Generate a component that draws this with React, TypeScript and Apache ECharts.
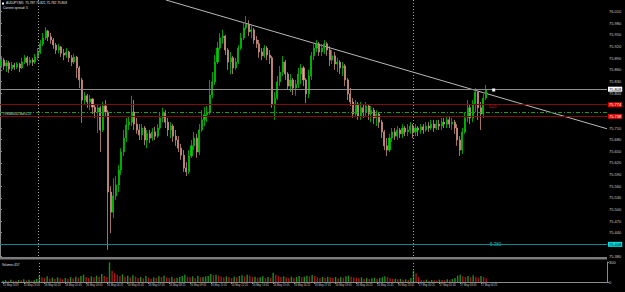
import React, { useEffect, useRef } from "react";
import * as echarts from "echarts";

// ---- data (AUDJPY; 10-minute steps) ----
const firstOpen = 75.87;
const closes = [
  75.885, 75.870, 75.878, 75.862, 75.872, 75.867, 75.875, 75.865, 75.880, 75.891,
  75.878, 75.885, 75.880, 75.893, 75.906, 75.927, 75.942, 75.960, 75.945, 75.937,
  75.924, 75.911, 75.919, 75.903, 75.898, 75.906, 75.891, 75.880, 75.893, 75.865,
  75.834, 75.782, 75.793, 75.777, 75.785, 75.764, 75.751, 75.762, 75.705, 75.767,
  75.751, 75.545, 75.493, 75.535, 75.563, 75.602, 75.648, 75.684, 75.718, 75.725,
  75.751, 75.720, 75.705, 75.692, 75.710, 75.679, 75.695, 75.684, 75.700, 75.689,
  75.710, 75.736, 75.751, 75.725, 75.705, 75.715, 75.689, 75.679, 75.658, 75.640,
  75.607, 75.597, 75.638, 75.664, 75.684, 75.648, 75.705, 75.731, 75.744, 75.751,
  75.795, 75.829, 75.880, 75.916, 75.942, 75.947, 75.911, 75.880, 75.891, 75.865,
  75.880, 75.916, 75.942, 75.968, 75.978, 75.958, 75.963, 75.937, 75.927, 75.906,
  75.896, 75.916, 75.898, 75.891, 75.772, 75.787, 75.829, 75.854, 75.880, 75.849,
  75.818, 75.834, 75.813, 75.823, 75.849, 75.865, 75.834, 75.798, 75.844, 75.896,
  75.916, 75.927, 75.906, 75.916, 75.927, 75.911, 75.885, 75.896, 75.875, 75.880,
  75.865, 75.870, 75.834, 75.798, 75.777, 75.746, 75.772, 75.741, 75.762, 75.751,
  75.767, 75.746, 75.756, 75.736, 75.746, 75.725, 75.700, 75.664, 75.653, 75.684,
  75.700, 75.689, 75.705, 75.695, 75.710, 75.700, 75.705, 75.715, 75.700, 75.710,
  75.705, 75.713, 75.705, 75.715, 75.710, 75.720, 75.710, 75.720, 75.715, 75.725,
  75.720, 75.731, 75.720, 75.725, 75.710, 75.679, 75.653, 75.700, 75.736, 75.762,
  75.736, 75.772, 75.803, 75.762, 75.746, 75.787, 75.808,
];
const highs = [
  75.896, 75.891, 75.885, 75.883, 75.880, 75.878, 75.880, 75.878, 75.891, 75.898,
  75.896, 75.893, 75.891, 75.901, 75.916, 75.937, 75.955, 75.970, 75.963, 75.955,
  75.942, 75.929, 75.927, 75.921, 75.914, 75.916, 75.909, 75.898, 75.901, 75.896,
  75.870, 75.839, 75.803, 75.798, 75.795, 75.787, 75.772, 75.772, 75.767, 75.777,
  75.782, 75.756, 75.560, 75.581, 75.586, 75.615, 75.658, 75.705, 75.736, 75.741,
  75.793, 75.782, 75.736, 75.720, 75.720, 75.715, 75.705, 75.705, 75.710, 75.713,
  75.720, 75.751, 75.762, 75.756, 75.736, 75.725, 75.720, 75.705, 75.689, 75.669,
  75.653, 75.622, 75.653, 75.679, 75.700, 75.695, 75.720, 75.756, 75.764, 75.767,
  75.834, 75.854, 75.898, 75.932, 75.955, 75.963, 75.950, 75.916, 75.906, 75.896,
  75.891, 75.924, 75.955, 75.983, 75.999, 75.988, 75.978, 75.968, 75.947, 75.937,
  75.916, 75.924, 75.921, 75.911, 75.896, 75.803, 75.844, 75.870, 75.896, 75.885,
  75.854, 75.849, 75.839, 75.834, 75.865, 75.875, 75.870, 75.839, 75.860, 75.906,
  75.929, 75.937, 75.932, 75.927, 75.937, 75.932, 75.921, 75.911, 75.906, 75.891,
  75.885, 75.880, 75.875, 75.839, 75.813, 75.787, 75.782, 75.777, 75.777, 75.772,
  75.777, 75.772, 75.767, 75.762, 75.756, 75.751, 75.731, 75.705, 75.684, 75.695,
  75.710, 75.710, 75.715, 75.710, 75.720, 75.715, 75.720, 75.725, 75.720, 75.720,
  75.715, 75.720, 75.720, 75.725, 75.725, 75.731, 75.731, 75.731, 75.731, 75.736,
  75.736, 75.741, 75.741, 75.736, 75.731, 75.720, 75.689, 75.710, 75.751, 75.782,
  75.772, 75.782, 75.813, 75.803, 75.777, 75.798, 75.821,
];
const lows = [
  75.865, 75.860, 75.854, 75.852, 75.857, 75.860, 75.862, 75.854, 75.862, 75.875,
  75.870, 75.872, 75.870, 75.875, 75.885, 75.901, 75.921, 75.937, 75.934, 75.927,
  75.914, 75.901, 75.903, 75.893, 75.885, 75.891, 75.880, 75.870, 75.875, 75.839,
  75.813, 75.723, 75.772, 75.762, 75.756, 75.746, 75.736, 75.697, 75.648, 75.700,
  75.741, 75.396, 75.439, 75.478, 75.524, 75.545, 75.589, 75.638, 75.674, 75.705,
  75.715, 75.705, 75.695, 75.679, 75.679, 75.666, 75.658, 75.671, 75.677, 75.679,
  75.684, 75.705, 75.725, 75.710, 75.689, 75.684, 75.674, 75.664, 75.648, 75.628,
  75.597, 75.586, 75.591, 75.633, 75.653, 75.633, 75.640, 75.700, 75.715, 75.725,
  75.744, 75.787, 75.821, 75.875, 75.911, 75.927, 75.898, 75.860, 75.849, 75.849,
  75.860, 75.875, 75.911, 75.937, 75.963, 75.947, 75.942, 75.927, 75.916, 75.891,
  75.885, 75.891, 75.885, 75.875, 75.762, 75.731, 75.782, 75.818, 75.844, 75.834,
  75.808, 75.803, 75.795, 75.793, 75.813, 75.823, 75.818, 75.774, 75.787, 75.834,
  75.885, 75.906, 75.896, 75.896, 75.901, 75.896, 75.870, 75.875, 75.860, 75.854,
  75.849, 75.844, 75.818, 75.782, 75.767, 75.736, 75.741, 75.731, 75.731, 75.736,
  75.741, 75.731, 75.725, 75.720, 75.715, 75.710, 75.684, 75.653, 75.638, 75.648,
  75.674, 75.679, 75.679, 75.684, 75.684, 75.689, 75.689, 75.695, 75.684, 75.689,
  75.689, 75.695, 75.695, 75.700, 75.700, 75.705, 75.700, 75.705, 75.705, 75.705,
  75.710, 75.710, 75.710, 75.705, 75.695, 75.664, 75.638, 75.643, 75.695, 75.725,
  75.720, 75.725, 75.751, 75.731, 75.705, 75.736, 75.782,
];
const volumes = [
  20, 28, 15, 35, 22, 18, 30, 25, 40, 22,
  35, 18, 28, 45, 95, 70, 60, 85, 50, 65,
  45, 70, 55, 40, 60, 48, 72, 55, 80, 65,
  90, 110, 75, 60, 85, 70, 95, 80, 120, 90,
  75, 295, 170, 130, 105, 90, 115, 80, 95, 70,
  100, 85, 60, 75, 55, 90, 65, 50, 70, 60,
  85, 75, 95, 70, 60, 80, 55, 65, 75, 90,
  110, 80, 70, 85, 60, 95, 70, 75, 85, 90,
  120, 100, 110, 95, 80, 70, 85, 75, 60, 80,
  70, 90, 100, 85, 110, 95, 75, 80, 65, 70,
  85, 60, 75, 65, 140, 110, 90, 75, 85, 70,
  60, 80, 65, 75, 90, 70, 80, 95, 85, 105,
  90, 70, 60, 75, 65, 80, 70, 60, 75, 55,
  70, 65, 85, 95, 80, 70, 65, 55, 70, 50,
  60, 45, 55, 65, 50, 60, 70, 85, 75, 55,
  45, 50, 40, 45, 35, 40, 30, 60, 170, 130,
  75, 30, 25, 35, 20, 30, 25, 20, 35, 30,
  25, 40, 35, 45, 60, 95, 110, 85, 75, 90,
  70, 100, 80, 65, 90, 75, 55,
];
// one label every 8 bars, starting at bar 0
const xTickLabels = [
  "15 May 2019", "15 May 23:05", "16 May 00:25", "16 May 01:45", "16 May 03:05",
  "16 May 04:25", "16 May 05:45", "16 May 07:05", "16 May 08:25", "16 May 09:45",
  "16 May 11:05", "16 May 12:25", "16 May 13:45", "16 May 15:05", "16 May 16:25",
  "16 May 17:45", "16 May 19:05", "16 May 20:25", "16 May 21:45", "16 May 23:05",
  "17 May 00:25", "17 May 01:45", "17 May 03:05", "17 May 04:25",
];
const LABEL_STEP = 8;
const TOTAL_SLOTS = 233;
const daySeparators = [14, 158];
const bidPrice = 75.808;
const stopPrices = [75.774, 75.738];
const orderPrice = 75.746;
const alertPrice = 75.408;
const trendLine = [
  [63.7, 76.04],
  [233, 75.708],
];
const priceMin = 75.38;
const priceMax = 76.04;
const priceStep = 0.03;
const volumeMax = 300;

const FONT = "Liberation Sans";

export default function App() {
  const ref = useRef<HTMLDivElement>(null);
  useEffect(() => {
    document.body.style.margin = "0";
    document.body.style.background = "#000";
    const chart = echarts.init(ref.current!, null, { renderer: "svg" });

    const slots = Array.from({ length: TOTAL_SLOTS }, (_, i) => String(i));
    const ohlc = closes.map((c, i) => {
      const o = i === 0 ? firstOpen : closes[i - 1];
      return [o, c, lows[i], highs[i]];
    });
    const volData = volumes.map((v, i) => ({
      value: v,
      itemStyle: { color: i === 0 || v >= volumes[i - 1] ? "#1c8c1c" : "#a31616" },
    }));
    const showTick = (idx: number) =>
      idx % LABEL_STEP === 0 && idx / LABEL_STEP < xTickLabels.length;

    const sepLines = daySeparators.map((d) => ({
      xAxis: d,
      lineStyle: { color: "#a0a0a0", type: [1, 2], width: 1 },
      label: { show: false },
    }));

    const tag = (text: string, bg: string, fg: string) => ({
      show: true,
      position: "end",
      distance: 1,
      formatter: text,
      color: fg,
      backgroundColor: bg,
      fontSize: 4,
      fontFamily: FONT,
      padding: [1, 1, 0, 1],
    });

    const option: any = {
      animation: false,
      backgroundColor: "#000",
      textStyle: { fontFamily: FONT },
      grid: [
        { left: 0, right: 18, top: 0, height: 256 },
        { left: 0, right: 18, top: 262, height: 20 },
      ],
      xAxis: [
        { type: "category", gridIndex: 0, data: slots, show: false },
        {
          type: "category",
          gridIndex: 1,
          data: slots,
          axisLine: { lineStyle: { color: "#8a8a8a", width: 1 } },
          axisTick: {
            show: true,
            alignWithLabel: true,
            interval: (idx: number) => showTick(idx),
            length: 2,
            lineStyle: { color: "#8a8a8a" },
          },
          axisLabel: {
            interval: (idx: number) => showTick(idx),
            formatter: (_v: string, idx: number) => xTickLabels[idx / LABEL_STEP] || "",
            color: "#c8c8c8",
            fontSize: 2.7,
            align: "left",
            margin: 2,
            hideOverlap: false,
          },
          splitLine: { show: false },
        },
        { type: "value", gridIndex: 0, min: 0, max: TOTAL_SLOTS, show: false },
      ],
      yAxis: [
        {
          type: "value",
          gridIndex: 0,
          position: "right",
          min: priceMin,
          max: priceMax,
          interval: priceStep,
          scale: true,
          splitLine: { show: false },
          axisLine: { show: true, lineStyle: { color: "#8a8a8a" } },
          axisTick: { show: true, length: 2, lineStyle: { color: "#8a8a8a" } },
          axisLabel: {
            color: "#c8c8c8",
            fontSize: 4,
            margin: 2,
            showMaxLabel: false,
            formatter: (v: number) => v.toFixed(3),
          },
        },
        {
          type: "value",
          gridIndex: 1,
          position: "right",
          min: 0,
          max: volumeMax,
          interval: volumeMax,
          splitLine: { show: false },
          axisLine: { show: true, lineStyle: { color: "#8a8a8a" } },
          axisTick: { show: true, length: 2, lineStyle: { color: "#8a8a8a" } },
          axisLabel: { color: "#c8c8c8", fontSize: 4, margin: 2 },
        },
      ],
      series: [
        {
          type: "line",
          xAxisIndex: 2,
          yAxisIndex: 0,
          data: trendLine,
          showSymbol: false,
          silent: true,
          lineStyle: { color: "#b8b8b8", width: 1 },
          z: 1,
        },
        {
          type: "candlestick",
          xAxisIndex: 0,
          yAxisIndex: 0,
          data: ohlc,
          barWidth: "60%",
          z: 3,
          itemStyle: {
            color: "#00d000",
            color0: "#f4a48e",
            borderColor: "#00c000",
            borderColor0: "#c98f80",
            borderWidth: 0.8,
          },
          markLine: {
            silent: true,
            symbol: ["none", "none"],
            animation: false,
            data: [
              {
                yAxis: bidPrice,
                lineStyle: { color: "#8c8c8c", type: "solid", width: 1 },
                label: tag(bidPrice.toFixed(3), "#ffffff", "#000000"),
              },
              ...stopPrices.map((p) => ({
                yAxis: p,
                lineStyle: { color: "#7e0e0e", type: "solid", width: 1 },
                label: tag(p.toFixed(3), "#e00000", "#ffffff"),
              })),
              {
                yAxis: orderPrice,
                lineStyle: { color: "#1c9c1c", type: [4, 2, 1, 2], width: 1 },
                label: { show: false },
              },
              {
                yAxis: alertPrice,
                lineStyle: { color: "#0e8a8a", type: "solid", width: 1 },
                label: tag(alertPrice.toFixed(3), "#00e0e0", "#000000"),
              },
              ...sepLines,
            ],
          },
          markPoint: {
            silent: true,
            data: [
              {
                coord: [189, bidPrice],
                symbol: "rect",
                symbolSize: [3, 3],
                itemStyle: { color: "#ffffff" },
                label: { show: false },
              },
            ],
          },
        },
        {
          type: "bar",
          xAxisIndex: 1,
          yAxisIndex: 1,
          data: volData,
          barWidth: "55%",
          markLine: {
            silent: true,
            symbol: ["none", "none"],
            animation: false,
            data: sepLines,
          },
        },
      ],
      graphic: [
        { type: "rect", shape: { x: 0, y: 257, width: 607, height: 2.5 }, style: { fill: "#7c7c7c" }, silent: true },
        { type: "rect", shape: { x: 2, y: 2.5, width: 2, height: 2 }, style: { fill: "#ffffff" }, silent: true },
        {
          type: "text", x: 6, y: 1.5, silent: true,
          style: { text: "AUDJPY,M5  75.787 75.821 75.782 75.808", fill: "#e6e6e6", fontSize: 3.2, fontFamily: FONT, verticalAlign: "top" },
        },
        {
          type: "text", x: 3, y: 6, silent: true,
          style: { text: "Current spread: 5", fill: "#e6e6e6", fontSize: 3.2, fontFamily: FONT, verticalAlign: "top" },
        },
        {
          type: "text", x: 3, y: 113.5, silent: true,
          style: { text: "#78583011 sell 0.17", fill: "#e6e6e6", fontSize: 3.2, fontFamily: FONT, verticalAlign: "middle" },
        },
        {
          type: "text", x: 489, y: 106, silent: true,
          style: { text: "515", fill: "#c01818", fontSize: 4.5, fontFamily: FONT, verticalAlign: "middle" },
        },
        {
          type: "text", x: 490, y: 244, silent: true,
          style: { text: "5.380", fill: "#1cb8b8", fontSize: 4.5, fontFamily: FONT, verticalAlign: "middle" },
        },
        {
          type: "text", x: 2, y: 263, silent: true,
          style: { text: "Volumes 457", fill: "#e0e0e0", fontSize: 3, fontFamily: FONT, verticalAlign: "top" },
        },
      ],
    };
    chart.setOption(option);
    return () => chart.dispose();
  }, []);
  return (
    <div
      ref={ref}
      style={{ position: "fixed", left: 0, top: 0, width: 625, height: 292, background: "#000" }}
    />
  );
}
